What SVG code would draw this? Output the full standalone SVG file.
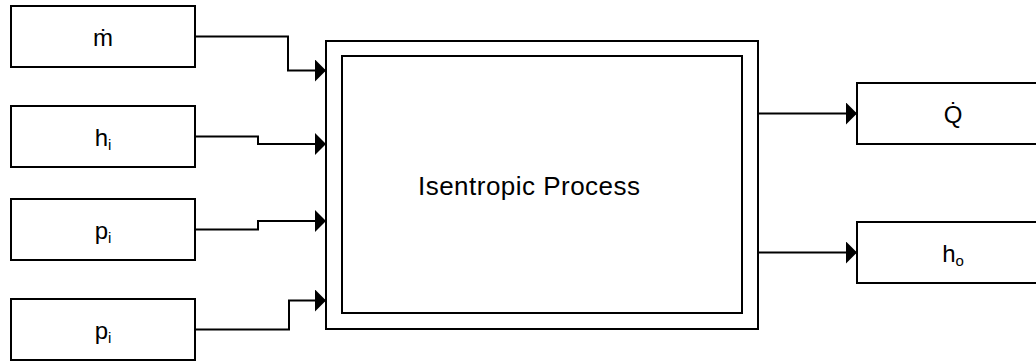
<svg xmlns="http://www.w3.org/2000/svg" width="1036" height="361" viewBox="0 0 1036 361">
<style>
.box{fill:#fff;stroke:#000;stroke-width:2}
.lbl{font-family:"Liberation Sans",Arial,sans-serif;font-size:24px;fill:#000;text-anchor:middle}
.sub{font-size:15px}
.title{font-size:26px;text-anchor:start}
.conn{fill:none;stroke:#000;stroke-width:2;marker-end:url(#arr)}
</style>
<defs>
<marker id="arr" markerUnits="userSpaceOnUse" markerWidth="11" markerHeight="22" refX="11" refY="11" orient="auto" viewBox="0 0 11 22">
<path d="M0,0 L11,11 L0,22 z" fill="#000"/>
</marker>
</defs>
<rect width="1036" height="361" fill="#fff"/>
<g id="node-mdot"><rect class="box" x="11" y="6" width="184" height="61"/><text class="lbl" x="103" y="46">ṁ</text></g>
<g id="node-hi"><rect class="box" x="11" y="106" width="184" height="61"/><text class="lbl" x="103" y="146">h<tspan class="sub" dy="4">i</tspan></text></g>
<g id="node-pi1"><rect class="box" x="11" y="199" width="184" height="61"/><text class="lbl" x="103" y="239">p<tspan class="sub" dy="4">i</tspan></text></g>
<g id="node-pi2"><rect class="box" x="11" y="299" width="184" height="61"/><text class="lbl" x="103" y="339">p<tspan class="sub" dy="4">i</tspan></text></g>
<g id="node-process"><rect class="box" x="326" y="41" width="432" height="288"/><rect class="box" x="342" y="56" width="400" height="257"/><text class="lbl title" x="418" y="195" textLength="222" lengthAdjust="spacing">Isentropic Process</text></g>
<g id="node-qdot"><rect class="box" x="857" y="83" width="190" height="61"/><text class="lbl" x="953" y="123">Q̇</text></g>
<g id="node-ho"><rect class="box" x="857" y="222" width="190" height="61"/><text class="lbl" x="953" y="262">h<tspan class="sub" dy="4">o</tspan></text></g>
<g id="connectors">
<path class="conn" d="M195,36.5 H288 V70.5 H326"/>
<path class="conn" d="M195,136.5 H258 V144 H326"/>
<path class="conn" d="M195,229.5 H258 V221 H326"/>
<path class="conn" d="M195,329.5 H289 V300.5 H326"/>
<path class="conn" d="M758,113.5 H857"/>
<path class="conn" d="M758,252.5 H857"/>
</g>
</svg>
